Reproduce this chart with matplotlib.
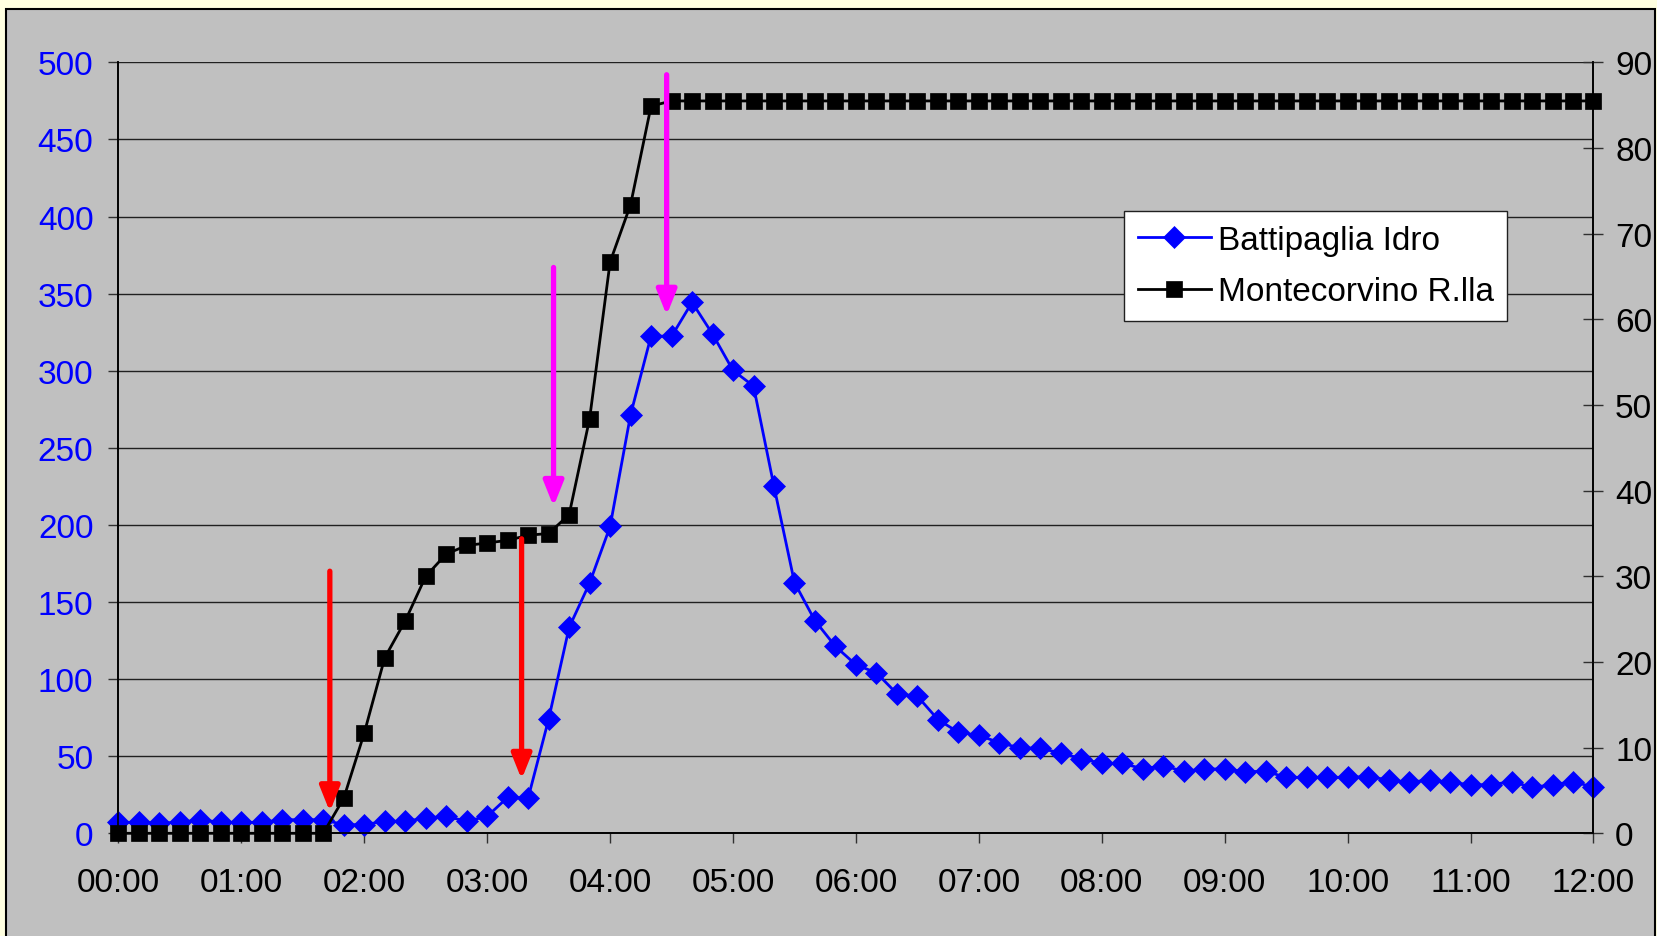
import numpy as np
import matplotlib
matplotlib.use("Agg")
import matplotlib.pyplot as plt
from matplotlib.patches import Rectangle

plt.rcParams['font.family'] = ['Liberation Sans', 'DejaVu Sans']

# readings every 10 minutes, 00:00 -> 12:00 (minutes)
minutes = np.arange(0, 721, 10)

# Battipaglia Idro (left axis)
battipaglia = [
    7.1, 7.1, 6.7, 7.1, 8.8, 7.1, 7.1, 7.1, 8.8, 8.8, 8.8, 5.6,
    5.6, 7.8, 7.8, 9.9, 11.0, 7.8, 11.0, 23.3, 22.9, 74.0, 133.5, 162.3,
    199.0, 271.5, 322.6, 322.3, 344.4, 323.8, 300.2, 290.1, 225.0, 162.6, 137.9, 121.2,
    109.3, 104.1, 90.5, 88.9, 73.8, 65.5, 63.5, 58.8, 55.4, 55.2, 52.0, 48.4,
    45.3, 45.4, 41.8, 43.8, 40.2, 41.7, 41.7, 40.0, 40.2, 36.3, 36.3, 36.3,
    36.3, 36.8, 34.6, 33.1, 34.6, 33.1, 31.5, 31.5, 33.5, 29.8, 31.5, 33.5,
    29.9,
]

# Montecorvino R.lla (right axis)
montecorvino = [0.0] * 11 + [
    4.1, 11.7, 20.5, 24.8, 30.0, 32.6, 33.6, 33.9, 34.2, 34.8, 35.0, 37.2,
    48.4, 66.7, 73.4, 84.9,
] + [85.5] * 46

# annotation arrows: time (h), start value, tip value (left axis units)
red_x = [1.72, 3.28]
red_from = [170, 191]
red_to = [14, 35]
magenta_x = [3.54, 4.46]
magenta_from = [367, 492]
magenta_to = [212, 336]

x_ticks = np.arange(0, 13)
x_labels = ["%02d:00" % h for h in x_ticks]

W, H = 1658, 937
fig = plt.figure(figsize=(W / 100, H / 100), dpi=100)
fig.patch.set_facecolor('#FFFFE0')
fig.add_artist(Rectangle((6 / W, -0.01), (1655 - 6) / W, 1.01 - 9.5 / H,
                         transform=fig.transFigure, facecolor='#C0C0C0',
                         edgecolor='black', lw=1.5, zorder=-10))

ax = fig.add_axes([118.4 / W, 1 - 834.3 / H, (1593.5 - 118.4) / W, (834.3 - 63.4) / H])
ax.set_facecolor('#C0C0C0')
ax2 = ax.twinx()

t = minutes / 60.0
l1, = ax.plot(t, battipaglia, color='#0000FF', lw=2.0, marker='D', ms=11.5,
              mec='#0000FF', mew=0.5, zorder=4, clip_on=False, label='Battipaglia Idro')
l2, = ax2.plot(t, montecorvino, color='black', lw=2.0, marker='s', ms=12,
               mec='black', mew=0.5, zorder=3, clip_on=False, label='Montecorvino R.lla')

ax.set_xlim(0, 12)
ax.set_ylim(0, 500)
ax2.set_ylim(0, 90)
ax.set_yticks(np.arange(0, 501, 50))
ax2.set_yticks(np.arange(0, 91, 10))
ax.set_xticks(x_ticks)
ax.set_xticklabels(x_labels)

ax.yaxis.grid(True, color='#202020', lw=1.0)
ax.set_axisbelow(True)

for a in (ax, ax2):
    a.spines['top'].set_visible(False)
    for side in ('left', 'right', 'bottom'):
        a.spines[side].set_color('black')
        a.spines[side].set_linewidth(1.2)

ax.tick_params(axis='y', direction='out', length=7, width=1, pad=11,
               labelsize=24, labelcolor='#0000FF', color='#303030')
ax.tick_params(axis='x', direction='out', length=7, width=1, pad=17,
               labelsize=24, labelcolor='black', color='#303030')
ax2.tick_params(axis='y', direction='inout', length=15, width=1, pad=8,
                labelsize=24, labelcolor='black', color='#303030')

# arrows drawn on the left-axis scale
for xs, y0s, y1s, col in [(red_x, red_from, red_to, '#FF0000'),
                          (magenta_x, magenta_from, magenta_to, '#FF00FF')]:
    for xv, y0, y1 in zip(xs, y0s, y1s):
        ax2.annotate('', xy=(xv, y1 * 90 / 500), xytext=(xv, y0 * 90 / 500),
                     xycoords='data', textcoords='data', zorder=6,
                     arrowprops=dict(arrowstyle='-|>,head_length=0.75,head_width=0.3',
                                     color=col, lw=3.8, mutation_scale=20,
                                     shrinkA=0, shrinkB=0))

leg = ax2.legend(handles=[l1, l2], loc='upper left',
                 bbox_to_anchor=(1124.4 / W, 1 - 212.3 / H),
                 bbox_transform=fig.transFigure, fontsize=24, frameon=True,
                 fancybox=False, edgecolor='#202020', framealpha=1,
                 handlelength=2.2, handletextpad=0.2, borderpad=0.4,
                 labelspacing=0.62, borderaxespad=0)
leg.get_frame().set_linewidth(1.0)
leg.set_zorder(10)

fig.savefig('out.png', dpi=100, facecolor=fig.get_facecolor())
